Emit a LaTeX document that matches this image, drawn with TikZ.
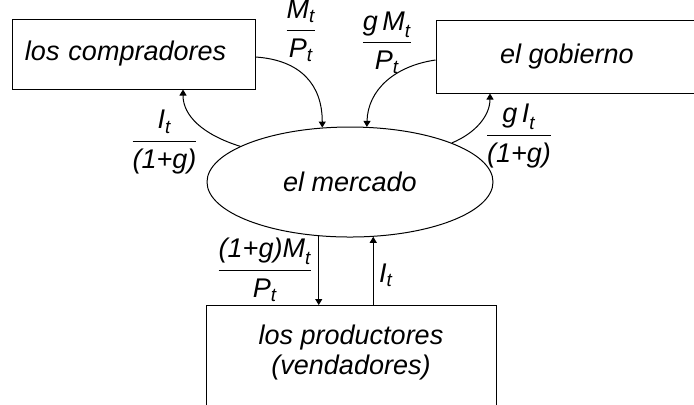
\documentclass[tikz,border=0pt]{standalone}
\usepackage{amsmath}
\usepackage{fontspec}
\setmainfont{Liberation Sans}
\usetikzlibrary{arrows.meta,shapes.geometric,calc}
\newcommand{\ai}[1]{\text{\itshape #1}}

\begin{document}
\begin{tikzpicture}[x=0.5pt,y=-0.5pt,
        every node/.style={font=\fontsize{13.5}{15}\selectfont\itshape},
        kasten/.style={draw,line width=0.5pt,inner sep=0pt},
        fluss/.style={line width=0.5pt,-{Triangle[length=3pt,width=3.5pt]}}]
        \useasboundingbox (0,0) rectangle (694,404);
        \clip (0,0) rectangle (694,404);

        % die vier Teilnehmer
        \node[kasten, text width=108.5pt, inner xsep=6.5pt, align=left, minimum height=35pt] (comp) at (133.5,54) {los compradores};
        \node[kasten, minimum width=131pt, minimum height=36.5pt] (gob) at (567,56.5) {el gobierno};
        \node[draw, line width=0.5pt, ellipse, inner sep=0pt, minimum width=143pt, minimum height=55pt] (merc) at (350,182) {el mercado};
        \node[kasten, minimum width=145pt, minimum height=60pt, anchor=north] (prod) at (351,305) {};
        \node[align=center] (prodtext) at ($(prod.north)+(0,47)$) {los productores\\(vendadores)};

        % Geld und Gueter
        \draw[fluss] ($(comp.east)+(0,3)$) .. controls +(45,3) and +(0,-43) .. (merc.117);
        \draw[fluss] (merc.162) .. controls +(-38,-12) and +(0,26) .. ($(comp.south)+(49.5,0)$);
        \draw[fluss] ($(gob.west)+(0,3.5)$) .. controls +(-41,6) and +(1,-37) .. (merc.73);
        \draw[fluss] (merc.21) .. controls +(24,-10) and +(0,22) .. ($(gob.south)+(-77,0)$);
        \draw[fluss] (merc.-120) -- (merc.-120 |- prod.north);
        \draw[fluss] (merc.-67 |- prod.north) -- (merc.-67);

        % Beschriftungen
        \node (lMP) at (301,31) {$\dfrac{\ai{M}_{\ai{t}}}{\ai{P}_{\ai{t}}}$};
        \node (lgMP) at (387,43) {$\dfrac{\ai{g\,M}_{\ai{t}}}{\ai{P}_{\ai{t}}}$};
        \node (lI) at (164.5,142) {$\dfrac{\ai{I}_{\ai{t}}}{\ai{(1+g)}}$};
        \node (lgI) at (519,136) {$\dfrac{\ai{g\,I}_{\ai{t}}}{\ai{(1+g)}}$};
        \node (lgM) at (265,270) {$\dfrac{\ai{(1+g)M}_{\ai{t}}}{\ai{P}_{\ai{t}}}$};
        \node (lIt) at (386,275) {$\ai{I}_{\ai{t}}$};
    \end{tikzpicture}
\end{document}
